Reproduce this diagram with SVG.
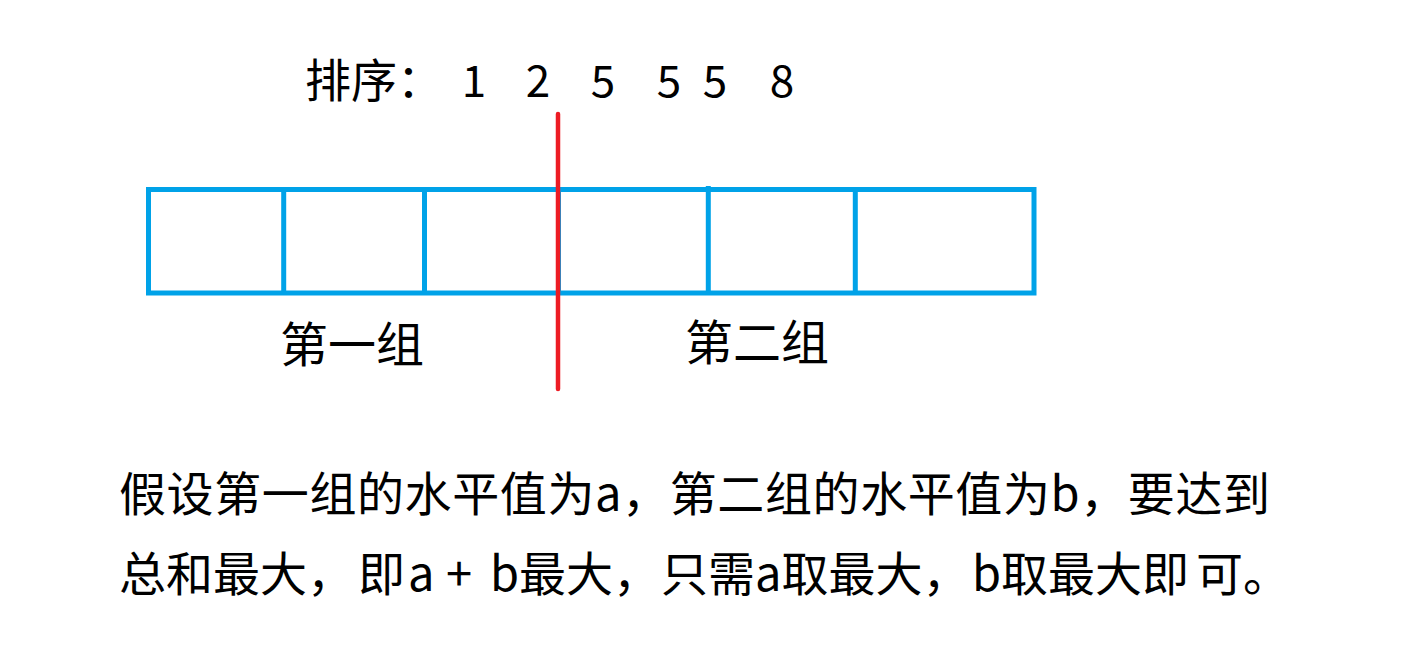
<svg xmlns="http://www.w3.org/2000/svg" width="1415" height="651" viewBox="0 0 1415 651">
<style>
.t{font-family:"Microsoft YaHei","Noto Sans CJK SC","Noto Sans",sans-serif;fill:#000;}
.box{fill:none;stroke:#00A2E8;stroke-width:5;}
.red{stroke:#ED1C24;stroke-width:4.5;stroke-linecap:round;}
</style>
<rect width="1415" height="651" fill="#fff"/>
<g id="title">
<text class="t" x="305" y="97" font-size="46">排序：</text>
<g font-size="44" text-anchor="middle">
<text class="t" x="474" y="97">1</text>
<text class="t" x="538" y="97">2</text>
<text class="t" x="603" y="97">5</text>
<text class="t" x="669" y="97">5</text>
<text class="t" x="715" y="97">5</text>
<text class="t" x="782" y="97">8</text>
</g>
</g>
<g id="array">
<rect class="box" x="148.5" y="189.5" width="885.5" height="103.5"/>
<line class="box" x1="283.7" y1="189.5" x2="283.7" y2="293"/>
<line class="box" x1="424.5" y1="189.5" x2="424.5" y2="293"/>
<line class="box" x1="558.5" y1="189.5" x2="558.5" y2="293"/>
<line class="box" x1="708.3" y1="186" x2="708.3" y2="293"/>
<line class="box" x1="855.3" y1="189.5" x2="855.3" y2="293"/>
</g>
<g id="group1"><text class="t" x="280" y="362" font-size="48">第一组</text></g>
<g id="group2"><text class="t" x="685" y="360" font-size="48">第二组</text></g>
<g id="connectors">
<line class="red" x1="558" y1="114" x2="558" y2="389"/>
</g>
<g id="note" font-size="47">
<text class="t" x="119" y="511" textLength="1151" lengthAdjust="spacing">假设第一组的水平值为a，第二组的水平值为b，要达到</text>
<text class="t" y="591"><tspan x="119">总和最大，</tspan><tspan x="358">即</tspan><tspan x="408">a</tspan><tspan x="446">+</tspan><tspan x="490">b最大，</tspan><tspan x="661">只需a取最大，</tspan><tspan x="972">b取最大即</tspan><tspan x="1196">可。</tspan></text>
</g>
</svg>
